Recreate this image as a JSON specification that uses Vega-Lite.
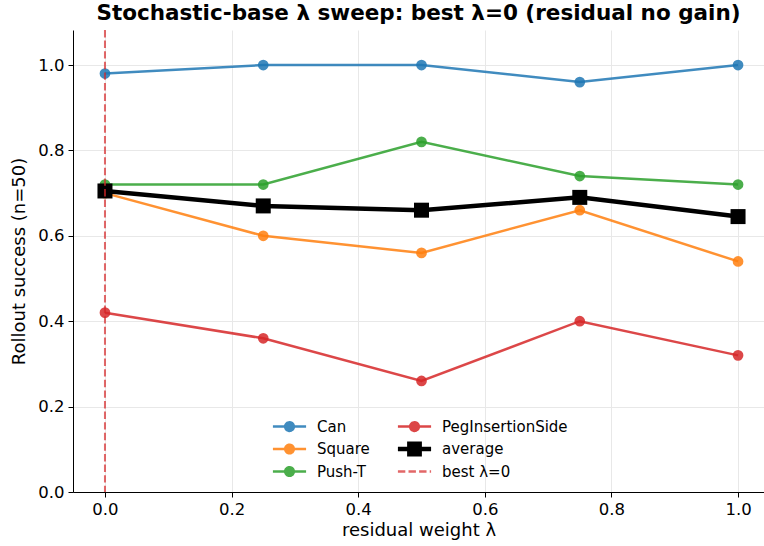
{
  "$schema": "https://vega.github.io/schema/vega-lite/v6.json",
  "autosize": {"type": "none"},
  "padding": {"left": 73, "top": 30, "right": 0, "bottom": 54},
  "width": 691,
  "height": 462,
  "background": "white",
  "config": {
    "font": "DejaVu Sans",
    "view": {"stroke": null},
    "axis": {
      "domainColor": "#000000",
      "tickColor": "#000000",
      "labelColor": "#000000",
      "titleColor": "#000000",
      "labelFontSize": 16.5,
      "titleFontSize": 18,
      "titleFontWeight": "normal",
      "gridColor": "#e8e8e8",
      "gridWidth": 1,
      "tickSize": 5,
      "labelPadding": 4
    }
  },
  "title": {
    "text": "Stochastic-base λ sweep: best λ=0 (residual no gain)",
    "fontSize": 21.5,
    "fontWeight": "bold",
    "color": "#000000",
    "anchor": "middle",
    "offset": 5
  },
  "data": {
    "values": [
      {"lambda": 0.0, "series": "Can", "success": 0.98},
      {"lambda": 0.25, "series": "Can", "success": 1.0},
      {"lambda": 0.5, "series": "Can", "success": 1.0},
      {"lambda": 0.75, "series": "Can", "success": 0.96},
      {"lambda": 1.0, "series": "Can", "success": 1.0},
      {"lambda": 0.0, "series": "Square", "success": 0.70},
      {"lambda": 0.25, "series": "Square", "success": 0.60},
      {"lambda": 0.5, "series": "Square", "success": 0.56},
      {"lambda": 0.75, "series": "Square", "success": 0.66},
      {"lambda": 1.0, "series": "Square", "success": 0.54},
      {"lambda": 0.0, "series": "Push-T", "success": 0.72},
      {"lambda": 0.25, "series": "Push-T", "success": 0.72},
      {"lambda": 0.5, "series": "Push-T", "success": 0.82},
      {"lambda": 0.75, "series": "Push-T", "success": 0.74},
      {"lambda": 1.0, "series": "Push-T", "success": 0.72},
      {"lambda": 0.0, "series": "PegInsertionSide", "success": 0.42},
      {"lambda": 0.25, "series": "PegInsertionSide", "success": 0.36},
      {"lambda": 0.5, "series": "PegInsertionSide", "success": 0.26},
      {"lambda": 0.75, "series": "PegInsertionSide", "success": 0.40},
      {"lambda": 1.0, "series": "PegInsertionSide", "success": 0.32},
      {"lambda": 0.0, "series": "average", "success": 0.705},
      {"lambda": 0.25, "series": "average", "success": 0.67},
      {"lambda": 0.5, "series": "average", "success": 0.66},
      {"lambda": 0.75, "series": "average", "success": 0.69},
      {"lambda": 1.0, "series": "average", "success": 0.645}
    ]
  },
  "encoding": {
    "x": {
      "field": "lambda",
      "type": "quantitative",
      "scale": {"domain": [-0.0505, 1.041], "nice": false, "zero": false},
      "axis": {"values": [0, 0.2, 0.4, 0.6, 0.8, 1.0], "format": ".1f", "title": "residual weight λ", "titlePadding": 4}
    },
    "y": {
      "field": "success",
      "type": "quantitative",
      "scale": {"domain": [0, 1.082], "nice": false},
      "axis": {"values": [0, 0.2, 0.4, 0.6, 0.8, 1.0], "format": ".1f", "title": "Rollout success (n=50)", "titlePadding": 9}
    },
    "color": {
      "field": "series",
      "type": "nominal",
      "scale": {
        "domain": ["Can", "Square", "Push-T", "PegInsertionSide", "average", "best λ=0"],
        "range": ["#1f77b4", "#ff7f0e", "#2ca02c", "#d62728", "#000000", "#d62728"]
      },
      "legend": {
        "title": null,
        "orient": "none",
        "legendX": 209,
        "legendY": 389,
        "columns": 2,
        "columnPadding": 18,
        "rowPadding": -1.5,
        "labelFontSize": 15,
        "labelColor": "#000000",
        "labelOffset": 20,
        "symbolSize": 1100,
        "symbolType": {"expr": "datum.value === 'average' ? 'M-1,0H1M-0.31,-0.31H0.31V0.31H-0.31Z' : (datum.value === 'best λ=0' ? 'M-1,0H1' : 'M-1,0H1M0.26,0A0.26,0.26,0,1,1,-0.26,0A0.26,0.26,0,1,1,0.26,0')"},
        "symbolStrokeWidth": {"expr": "datum.value === 'average' ? 4.5 : 2.5"},
        "symbolDash": {"expr": "datum.value === 'best λ=0' ? [7.4, 3.2] : [1, 0]"},
        "symbolFillColor": {"expr": "scale('color', datum.value)"},
        "symbolStrokeColor": {"expr": "scale('color', datum.value)"},
        "symbolOpacity": {"expr": "datum.value === 'average' ? 1 : (datum.value === 'best λ=0' ? 0.7 : 0.85)"}
      }
    }
  },
  "layer": [
    {
      "transform": [{"filter": "datum.series !== 'average'"}],
      "mark": {"type": "line", "strokeWidth": 2.5, "opacity": 0.85},
      "encoding": {"detail": {"field": "series"}}
    },
    {
      "transform": [{"filter": "datum.series !== 'average'"}],
      "mark": {"type": "point", "shape": "circle", "filled": true, "size": 115, "opacity": 0.85}
    },
    {
      "transform": [{"filter": "datum.series === 'average'"}],
      "mark": {"type": "line", "strokeWidth": 4.5, "opacity": 1}
    },
    {
      "transform": [{"filter": "datum.series === 'average'"}],
      "mark": {"type": "point", "shape": "square", "filled": true, "size": 225, "opacity": 1}
    },
    {
      "data": {"values": [{"lambda": 0, "series": "best λ=0"}]},
      "mark": {"type": "rule", "strokeWidth": 2, "strokeDash": [7.4, 3.2], "opacity": 0.7},
      "encoding": {"y": null}
    }
  ]
}
